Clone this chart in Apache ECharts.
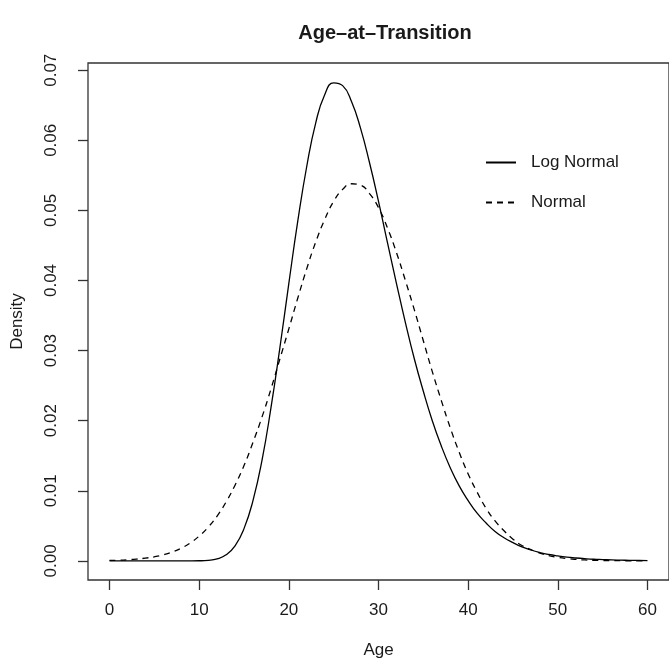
<!DOCTYPE html>
<html>
<head>
<meta charset="utf-8">
<script src="https://cdn.jsdelivr.net/npm/echarts@6/dist/echarts.min.js"></script>
<style>
html,body{margin:0;padding:0;background:#fff;}
#chart{width:669px;height:664px;}
</style>
</head>
<body>
<div id="chart"></div>
<script>
var titleText = 'Age\u2013at\u2013Transition';
var xName = 'Age';
var yName = 'Density';
var seriesNames = ['Log Normal', 'Normal'];
var xTicks = [0, 10, 20, 30, 40, 50, 60];
var yTicks = [0, 0.01, 0.02, 0.03, 0.04, 0.05, 0.06, 0.07];

var ages = [0,1,2,3,4,5,6,7,8,9,10,11,12,13,14,15,16,17,18,19,20,21,22,23,24,25,26,27,28,29,30,
  31,32,33,34,35,36,37,38,39,40,41,42,43,44,45,46,47,48,49,50,51,52,53,54,55,56,57,58,59,60];

var logNormal = [0,0,0,0,0,0,0,0,0,0.000002,
  0.000014,0.000072,0.00028,0.00086,0.00215,0.0046,0.0086,0.0143,0.0218,0.0304,
  0.0396,0.0485,0.0563,0.0625,0.0665,0.0682,0.0678,0.0655,0.0617,0.0568,
  0.0513,0.0454,0.0396,0.0340,0.0288,0.0242,0.0200,0.0164,0.0133,0.0107,
  0.0086,0.0068,0.0054,0.0042,0.0033,0.0026,0.0020,0.00155,0.00119,0.00091,
  0.0007,0.00053,0.00041,0.00031,0.00023,0.00018,0.00013,0.0001,0.000076,0.000057,0.000043];

var normal = [0.00006,0.0001,0.00016,0.00025,0.00039,0.00058,0.00087,0.00127,0.00182,0.00256,
  0.00354,0.0048,0.0064,0.0084,0.0108,0.0136,0.0169,0.0205,0.0245,0.0288,
  0.0331,0.0375,0.0417,0.0455,0.0487,0.0513,0.0530,0.0538,0.0536,0.0524,
  0.0504,0.0475,0.0440,0.0400,0.0358,0.0314,0.0270,0.0229,0.0190,0.0155,
  0.0124,0.0098,0.0075,0.0057,0.0043,0.0031,0.0022,0.0016,0.0011,0.00074,
  0.0005,0.00033,0.00021,0.00013,0.00008,0.00005,0.00003,0.00002,0.00001,0.000006,0.000003];

function pairs(xs, ys){ return xs.map(function(x,i){ return [x, ys[i]]; }); }

var FONT = '"Liberation Sans", Arial, Helvetica, sans-serif';
var TXT = '#1a1a1a';

var chart = echarts.init(document.getElementById('chart'), null, {renderer:'canvas'});
chart.setOption({
  animation: false,
  backgroundColor: '#ffffff',
  title: {
    text: titleText,
    left: 380,
    top: 18,
    textAlign: 'center',
    textStyle: {fontFamily: FONT, fontSize: 20, fontWeight: 'bold', color: TXT}
  },
  legend: {
    orient: 'vertical',
    left: 480,
    top: 149,
    itemWidth: 30,
    itemHeight: 14,
    itemGap: 23,
    data: seriesNames,
    itemStyle: {opacity: 0, borderWidth: 0},
    textStyle: {fontFamily: FONT, fontSize: 17, color: TXT, padding: [0,0,0,10]}
  },
  grid: {
    left: 88, top: 63, right: -3, bottom: 82,
    show: true, borderColor: '#333', borderWidth: 1.3, backgroundColor: 'transparent'
  },
  xAxis: {
    type: 'value', min: -2.4, max: 62.4,
    name: xName, nameLocation: 'middle', nameGap: 62,
    nameTextStyle: {fontFamily: FONT, fontSize: 17, color: TXT},
    axisLine: {show: false, onZero: false},
    splitLine: {show: false},
    axisTick: {show: true, inside: false, length: 10, customValues: xTicks, lineStyle: {color: '#333', width: 1.3}},
    axisLabel: {customValues: xTicks, margin: 22, fontFamily: FONT, fontSize: 17, color: TXT}
  },
  yAxis: {
    type: 'value', min: -0.00273, max: 0.07103,
    name: yName, nameLocation: 'middle', nameGap: 62,
    nameTextStyle: {fontFamily: FONT, fontSize: 17, color: TXT},
    axisLine: {show: false, onZero: false},
    splitLine: {show: false},
    axisTick: {show: true, inside: false, length: 10, customValues: yTicks, lineStyle: {color: '#333', width: 1.3}},
    axisLabel: {customValues: yTicks, rotate: 90, margin: 28, fontFamily: FONT, fontSize: 17, color: TXT,
      formatter: function(v){ return v.toFixed(2); }}
  },
  series: [
    {
      name: seriesNames[0], type: 'line', data: pairs(ages, logNormal),
      symbol: 'none', smooth: 0.5,
      lineStyle: {color: '#000', width: 1.3, type: 'solid'},
      itemStyle: {color: '#000'}
    },
    {
      name: seriesNames[1], type: 'line', data: pairs(ages, normal),
      symbol: 'none', smooth: 0.5,
      lineStyle: {color: '#000', width: 1.3, type: [6,5]},
      itemStyle: {color: '#000'}
    }
  ]
});
</script>
</body>
</html>
